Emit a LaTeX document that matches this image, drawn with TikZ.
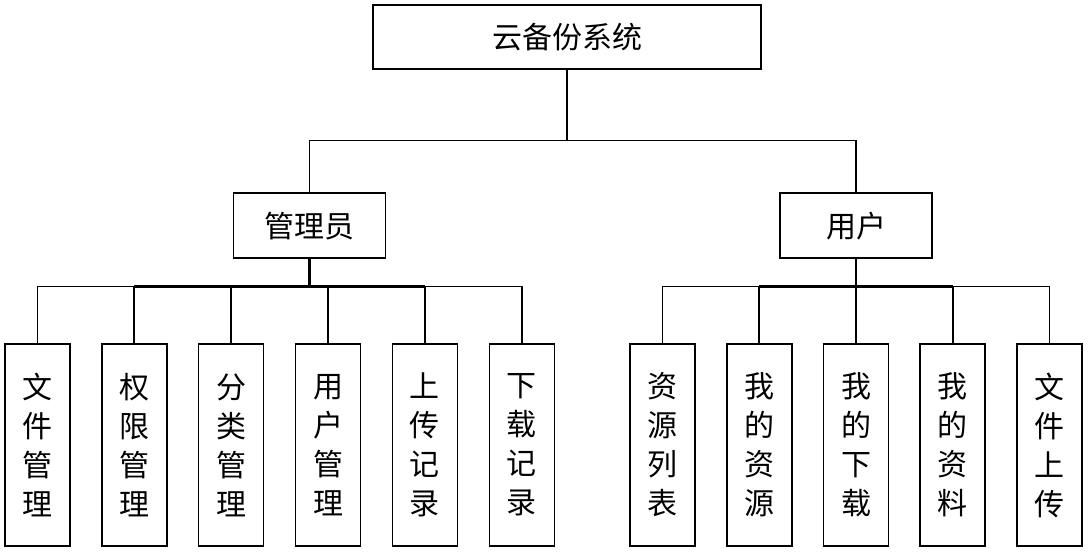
\documentclass[tikz,border=0pt]{standalone}
\usepackage{fontspec}
\newfontfamily\cjk{Noto Sans CJK SC}
\tikzset{
  box/.style={draw, line width=0.8pt, inner sep=0pt, font=\cjk\fontsize{15}{19.5}\selectfont},
  topbox/.style={box, minimum width=194pt, minimum height=32pt},
  midbox/.style={box, minimum width=76pt, minimum height=32.5pt},
  leafbox/.style={box, minimum width=32.5pt, minimum height=101pt, align=center},
  link/.style={line width=0.8pt},
  thicklink/.style={line width=1.3pt}
}
\begin{document}
\begin{tikzpicture}[x=0.5pt, y=-0.5pt]
    \useasboundingbox (0,0) rectangle (1088,552);

    \node [topbox] (sys) at (567,37) {云备份系统};
    \node [midbox] (admin) at (309.5,225.7) {管理员};
    \node [midbox] (user) at (856,225.7) {用户};

    % administrator side
    \node [leafbox] (a1) at (37.3,445) {文\\件\\管\\理};
    \node [leafbox] (a2) at (134.2,445) {权\\限\\管\\理};
    \node [leafbox] (a3) at (231.1,445) {分\\类\\管\\理};
    \node [leafbox] (a4) at (328,445) {用\\户\\管\\理};
    \node [leafbox] (a5) at (424.9,445) {上\\传\\记\\录};
    \node [leafbox] (a6) at (521.8,445) {下\\载\\记\\录};

    % user side
    \node [leafbox] (u1) at (662.5,445) {资\\源\\列\\表};
    \node [leafbox] (u2) at (759.25,445) {我\\的\\资\\源};
    \node [leafbox] (u3) at (856,445) {我\\的\\下\\载};
    \node [leafbox] (u4) at (952.75,445) {我\\的\\资\\料};
    \node [leafbox] (u5) at (1049.5,445) {文\\件\\上\\传};

    \coordinate (tbus) at (sys.south |- 0,140.3);
    \coordinate (abus) at (admin.south |- 0,286.5);
    \coordinate (ubus) at (user.south |- 0,286.5);

    \draw [link] (sys.south) -- (tbus);
    \draw [link] (tbus) -| (admin.north);
    \draw [link] (tbus) -| (user.north);

    \draw [thicklink] (admin.south) -- (abus);
    \draw [link] (abus) -| (a1.north);
    \draw [link] (abus) -| (a2.north);
    \draw [link] (abus) -| (a3.north);
    \draw [link] (abus) -| (a4.north);
    \draw [link] (abus) -| (a5.north);
    \draw [link] (abus) -| (a6.north);
    \draw [thicklink] (a2.north |- abus) -- (a5.north |- abus);

    \draw [thicklink] (user.south) -- (ubus);
    \draw [link] (ubus) -| (u1.north);
    \draw [link] (ubus) -| (u2.north);
    \draw [link] (ubus) -| (u3.north);
    \draw [link] (ubus) -| (u4.north);
    \draw [link] (ubus) -| (u5.north);
    \draw [thicklink] (u2.north |- ubus) -- (u4.north |- ubus);
\end{tikzpicture}
\end{document}
